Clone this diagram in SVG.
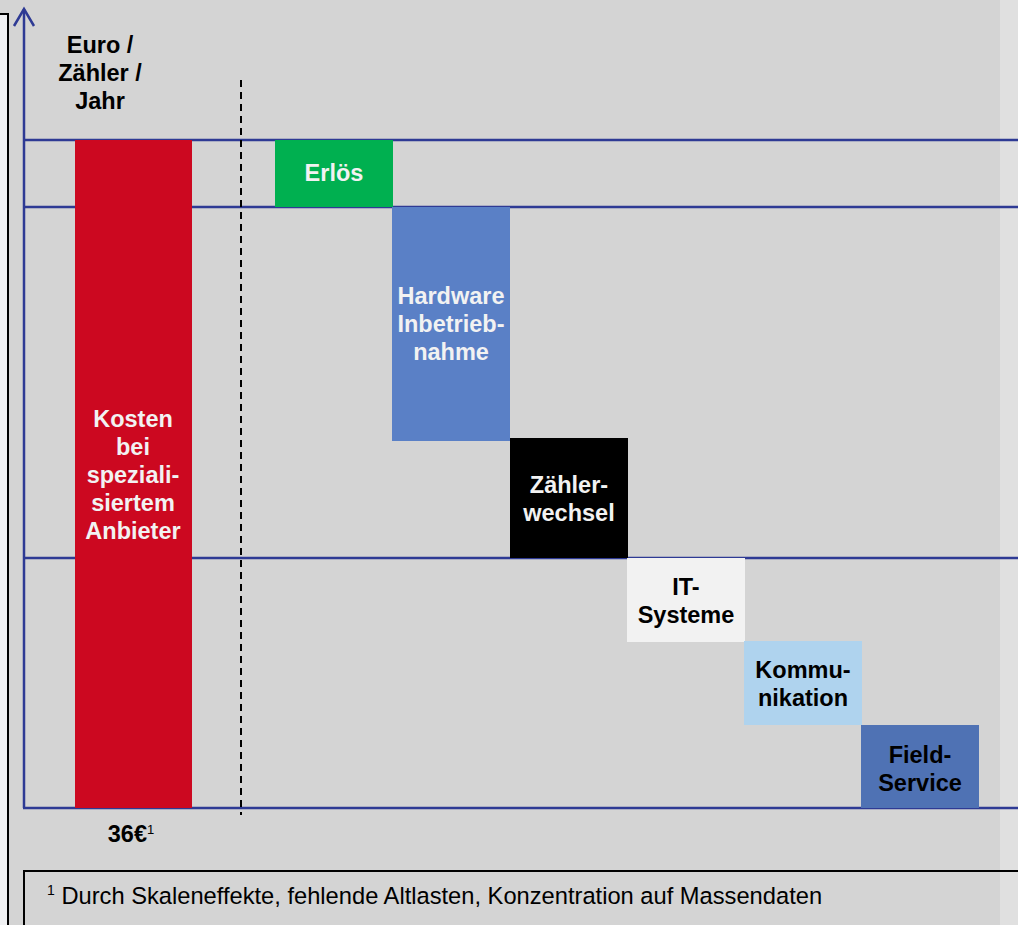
<svg xmlns="http://www.w3.org/2000/svg" width="1018" height="925" viewBox="0 0 1018 925">
<style>
.t{font-family:"Liberation Sans",Arial,sans-serif;font-weight:bold;font-size:23.5px;text-anchor:middle}
.w{fill:#f2f2f2}
.k{fill:#000}
.ax{stroke:#2e3a94;stroke-width:2.5;fill:none}
</style>
<rect x="0" y="0" width="1018" height="925" fill="#e0e0e0"/>
<rect x="0" y="0" width="1000" height="925" fill="#d4d4d4"/>
<rect x="-10" y="14" width="18" height="930" fill="#f0f1f3" stroke="#000" stroke-width="2"/>
<g id="connectors">
<line class="ax" x1="24" y1="9" x2="24" y2="808"/>
<polyline class="ax" points="14,26 24,9 34,26"/>
<line class="ax" x1="24" y1="140" x2="1018" y2="140"/>
<line class="ax" x1="24" y1="207" x2="1018" y2="207"/>
<line class="ax" x1="24" y1="558" x2="1018" y2="558"/>
<line class="ax" x1="23" y1="808" x2="1018" y2="808"/>
<line x1="241" y1="80" x2="241" y2="815" stroke="#000" stroke-width="2" stroke-dasharray="7,5"/>
</g>
<g id="axis-label">
<text class="t k" x="100" y="53">Euro /</text>
<text class="t k" x="100" y="81">Zähler /</text>
<text class="t k" x="100" y="109">Jahr</text>
</g>
<g id="kosten">
<rect x="75" y="140" width="117" height="668" fill="#cc0820"/>
<text class="t w" x="133" y="427">Kosten</text>
<text class="t w" x="133" y="455">bei</text>
<text class="t w" x="133" y="483">speziali-</text>
<text class="t w" x="133" y="511">siertem</text>
<text class="t w" x="133" y="539">Anbieter</text>
</g>
<g id="erloes">
<rect x="275" y="140" width="118" height="67" fill="#00b050"/>
<text class="t w" x="334" y="181">Erlös</text>
</g>
<g id="hardware">
<rect x="392" y="207" width="118" height="234" fill="#5a80c6"/>
<text class="t w" x="451" y="304">Hardware</text>
<text class="t w" x="451" y="332">Inbetrieb-</text>
<text class="t w" x="451" y="360">nahme</text>
</g>
<g id="zaehlerwechsel">
<rect x="510" y="438" width="118" height="120" fill="#000"/>
<text class="t w" x="569" y="493">Zähler-</text>
<text class="t w" x="569" y="521">wechsel</text>
</g>
<g id="it">
<rect x="627" y="558" width="118" height="84" fill="#f2f2f2"/>
<text class="t k" x="686" y="595">IT-</text>
<text class="t k" x="686" y="623">Systeme</text>
</g>
<g id="kommunikation">
<rect x="744" y="641" width="118" height="84" fill="#afd3ee"/>
<text class="t k" x="803" y="678">Kommu-</text>
<text class="t k" x="803" y="706">nikation</text>
</g>
<g id="fieldservice">
<rect x="861" y="725" width="118" height="83" fill="#4f72b4"/>
<text class="t k" x="920" y="763">Field-</text>
<text class="t k" x="920" y="791">Service</text>
</g>
<g id="value">
<text class="t k" x="131" y="842">36€<tspan font-size="13" dy="-8" font-weight="normal">1</tspan></text>
</g>
<g id="footnote">
<rect x="24" y="871" width="1010" height="80" fill="none" stroke="#000" stroke-width="2"/>
<text x="47" y="904" font-family="Liberation Sans,Arial,sans-serif" font-size="23.7" fill="#000"><tspan font-size="14" dy="-9">1</tspan><tspan dy="9"> Durch Skaleneffekte, fehlende Altlasten, Konzentration auf Massendaten</tspan></text>
</g>
</svg>
